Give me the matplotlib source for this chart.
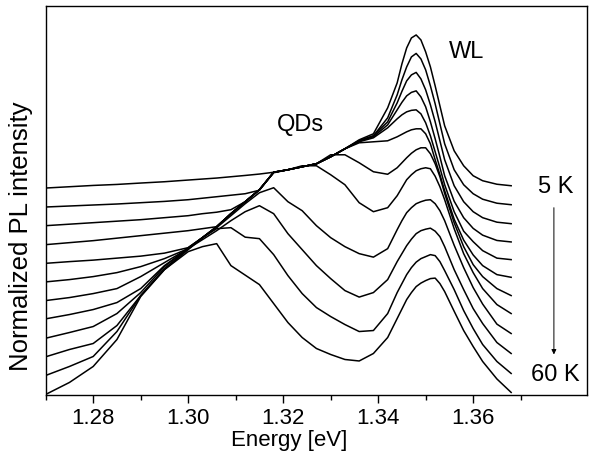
import matplotlib
matplotlib.use("Agg")
import matplotlib.pyplot as plt

plt.rcParams['font.family'] = ['Liberation Sans', 'DejaVu Sans']

# Energy grid (eV)
energy = [1.270, 1.275, 1.280, 1.285, 1.290, 1.295, 1.300, 1.303, 1.306,
          1.309, 1.312, 1.315, 1.318, 1.321, 1.324, 1.327, 1.330, 1.333,
          1.336, 1.339, 1.342, 1.344, 1.345, 1.346, 1.347, 1.348, 1.349,
          1.350, 1.351, 1.352, 1.353, 1.354, 1.356, 1.358, 1.360, 1.362,
          1.365, 1.368]

# PL spectra, already offset (arb. units), top = 5 K, bottom = 60 K
pl_01 = [207.7, 209, 210.3, 211.3, 212.7, 214, 215.7, 216.7, 217.7, 219, 220.3, 221.7, 223.5, 226, 229, 232, 239, 247, 256, 262,
         288, 313, 332, 348, 358, 361, 356, 344, 329, 310, 290, 270, 245, 230, 220, 215, 211.5, 210]
pl_02 = [188.7, 189.7, 190.7, 191.7, 193, 194.3, 196, 197.5, 199, 200.5, 202, 205.5, 223.5, 226, 229, 232, 239, 247, 255, 260,
         278, 301, 316, 329, 339, 342.5, 337, 326, 310, 292, 272, 252, 226, 211, 202, 196.5, 192.5, 191]
pl_03 = [170, 171.5, 173, 174.5, 176, 178, 180, 182, 183.5, 186, 194, 206, 223.5, 226, 229, 232, 239, 247, 255, 260,
         274, 293, 304.5, 315, 321, 323.5, 317, 306, 291, 274, 255, 236, 210, 194, 184, 178, 173.5, 172]
pl_04 = [151, 153, 155, 157.5, 160, 162.5, 165, 167, 169, 182, 194, 206, 223.5, 226, 229, 232, 239, 247, 255, 259,
         271, 286, 293.5, 300, 303.5, 305, 299, 289, 274, 257, 239, 220, 194.5, 178, 167.3, 160.5, 155.2, 153.7]
pl_05 = [132.3, 134, 135.5, 137.5, 139.5, 142.5, 148, 158, 169, 182, 194, 206, 223.5, 226, 229, 232, 239, 247, 254, 258,
         268, 277, 281, 284, 285.5, 286, 282, 273, 260, 244, 228, 211, 184, 164.5, 154, 145, 137.5, 136]
pl_06 = [113.7, 116, 119, 123, 129, 137, 147, 158, 169, 182, 194, 206, 223.5, 226, 229, 232, 239, 247, 253, 254,
         255, 259, 261.5, 264, 266, 267, 267, 262, 252, 236, 221, 205, 176.5, 155.6, 140.7, 130, 121, 118.3]
pl_07 = [95, 98, 102, 107, 119, 133, 147, 158, 169, 182, 194, 206, 223.5, 226, 229, 232, 241, 241, 233, 224,
         221.5, 228, 233, 238, 242.5, 246, 248, 248, 242, 232, 219, 202.3, 173, 149, 131, 119, 107, 100]
pl_08 = [76.7, 81, 86, 93, 107, 130, 147, 158, 169, 182, 194, 206, 223, 226, 230, 230, 221, 211, 193, 184,
         188, 200, 208, 216, 221, 225, 227, 228, 227, 219.5, 209, 196, 167, 142, 123, 107, 91, 82]
pl_09 = [57.3, 63, 69, 82, 103, 129, 148, 158, 168, 180, 192, 203, 208, 194, 185, 170, 158, 149, 142, 138.5,
         147, 166, 175, 183, 188, 192, 194, 195.5, 196, 192, 185, 175, 150.4, 128, 108, 91.5, 71.4, 62]
pl_10 = [38.7, 46, 52, 70, 100, 127, 147, 156, 165, 175, 184, 190, 182, 162, 146, 130, 117, 105, 98.5, 103,
         116, 134, 142, 150, 156.5, 162, 165, 166.5, 167.5, 164.5, 159, 149, 126, 106, 87, 72, 53, 42]
pl_11 = [20, 29, 39, 64, 100, 126, 146, 158, 167, 168, 158.5, 157, 141, 120, 102, 88, 79, 71, 64, 65,
         82, 103, 112, 121, 128, 133.5, 137, 139, 141, 140, 134, 125, 106, 85, 67, 51, 34, 22]
pl_12 = [1, 13, 29, 56, 99, 126, 144, 149, 152, 130, 120.5, 111, 92, 73, 58, 47, 41, 36, 34.5, 42,
         58, 77, 86.5, 96, 103, 109, 112.5, 115, 117, 117.5, 112, 104, 84.3, 65, 49, 34, 16.5, 3]

spectra = [pl_01, pl_02, pl_03, pl_04, pl_05, pl_06,
           pl_07, pl_08, pl_09, pl_10, pl_11, pl_12]

major_ticks = [1.28, 1.30, 1.32, 1.34, 1.36]
minor_ticks = [1.27, 1.29, 1.31, 1.33, 1.35, 1.37]

fig = plt.figure(figsize=(5.95, 4.54), dpi=100)
ax = fig.add_axes([0.0768, 0.129, 0.9092, 0.8578])

for spec in spectra:
    ax.plot(energy, spec, color='black', lw=1.1)

ax.set_xlim(1.27, 1.3839)
ax.set_ylim(0, 390)
ax.set_yticks([])
ax.set_xticks(major_ticks)
ax.set_xticks(minor_ticks, minor=True)
ax.set_xticklabels(['%.2f' % t for t in major_ticks])
ax.tick_params(axis='x', which='major', direction='out', length=5.5, width=1,
               labelsize=16, pad=3.5)
ax.tick_params(axis='x', which='minor', direction='out', length=3.5, width=1)
for sp in ax.spines.values():
    sp.set_linewidth(1.0)

ax.set_xlabel('Energy [eV]', fontsize=16)
ax.xaxis.set_label_coords(0.45, -0.09, transform=ax.transAxes)
ax.xaxis.label.set_va('top')
ax.set_ylabel('Normalized PL intensity', fontsize=18.5)
ax.yaxis.set_label_coords(-0.023, 0.41)

ax.text(1.3237, 271, 'QDs', fontsize=17, ha='center', va='center')
ax.text(1.3587, 344, 'WL', fontsize=17, ha='center', va='center')
ax.text(1.3773, 209, '5 K', fontsize=17, ha='center', va='center')
ax.text(1.3773, 20, '60 K', fontsize=17, ha='center', va='center')
ax.annotate('', xy=(1.3770, 41), xytext=(1.3770, 188),
            arrowprops=dict(arrowstyle='-|>', lw=0.7, color='black',
                            mutation_scale=7, shrinkA=0, shrinkB=0))

fig.savefig('out.png', dpi=100)
